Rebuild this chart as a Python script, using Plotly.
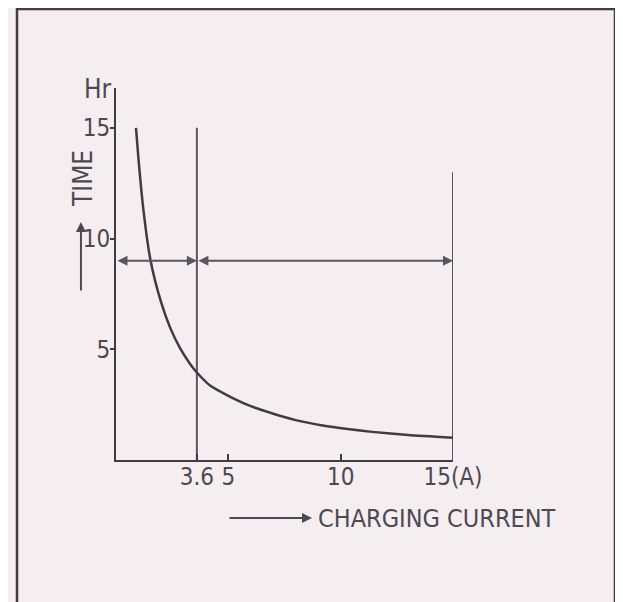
import plotly.graph_objects as go

# ===== data =====
current_a = [0.89, 1.0, 1.22, 1.54, 2.0, 2.4, 2.85, 3.29, 3.6, 4.2, 5.0, 6.0, 7.0, 8.0, 9.2, 10.3, 11.4, 13.0, 15.0]
time_hr = [15.0, 13.6, 11.3, 9.0, 7.15, 6.0, 5.05, 4.35, 3.95, 3.35, 2.9, 2.43, 2.09, 1.8, 1.56, 1.4, 1.27, 1.13, 1.01]

x_tick_vals = [3.6, 5, 10, 15]
x_tick_text = ["3.6", "5", "10", "15(A)"]
y_tick_vals = [5, 10, 15]
y_tick_text = ["5", "10", "15"]

marker_current_a = [3.6, 15]      # vertical guide lines
marker_top_hr = [15.0, 13.0]      # how high each guide goes
charge_time_hr = 9.0              # horizontal dimension arrow

COLORS = {
    'bg': '#f4eef1',
    'line': '#403a46',
    'guide': '#5b5561',
    'text': '#4e4852',
    'border': '#3f3b47',
}
FONT = "Liberation Sans Narrow, DejaVu Sans Condensed, sans-serif"

fig = go.Figure()

# guide lines at 3.6 A and 15 A
for cx, top in zip(marker_current_a, marker_top_hr):
    fig.add_trace(go.Scatter(
        x=[cx, cx], y=[0, top], mode="lines",
        line=dict(color=COLORS['guide'], width=2),
        hoverinfo="skip", showlegend=False
    ))

# charging curve
fig.add_trace(go.Scatter(
    x=current_a, y=time_hr, mode="lines",
    line=dict(color=COLORS['line'], width=2.5, shape="spline", smoothing=0.6),
    showlegend=False
))

# double headed dimension arrows at 9 hr
spans = [(0, marker_current_a[0]), (marker_current_a[0], marker_current_a[1])]
for x0, x1 in spans:
    fig.add_annotation(
        x=x1, y=charge_time_hr, ax=x0, ay=charge_time_hr,
        xref="x", yref="y", axref="x", ayref="y",
        text="", showarrow=True, arrowhead=2, arrowsize=1, arrowwidth=2,
        arrowside="end+start", arrowcolor=COLORS['guide']
    )

# axis captions
fig.add_annotation(
    x=-0.0534, y=0.997, xref="paper", yref="paper",
    xanchor="center", yanchor="middle",
    text="Hr", showarrow=False,
    font=dict(family=FONT, size=26, color=COLORS['text'])
)
fig.add_annotation(
    x=-0.098, y=0.758, xref="paper", yref="paper",
    xanchor="center", yanchor="middle",
    text="TIME", textangle=-90, showarrow=False,
    font=dict(family=FONT, size=26, color=COLORS['text'])
)
fig.add_annotation(
    x=-0.104, y=0.64, xref="paper", yref="paper",
    text="", showarrow=True, ax=0, ay=70,
    arrowhead=2, arrowsize=1, arrowwidth=2, arrowcolor=COLORS['text']
)
fig.add_annotation(
    x=0.9525, y=-0.156, xref="paper", yref="paper",
    xanchor="center", yanchor="middle",
    text="CHARGING CURRENT", showarrow=False,
    font=dict(family=FONT, size=25, color=COLORS['text'])
)
fig.add_annotation(
    x=0.5816, y=-0.156, xref="paper", yref="paper",
    text="", showarrow=True, ax=-84, ay=0,
    arrowhead=2, arrowsize=1, arrowwidth=2, arrowcolor=COLORS['text']
)

# outer frame of the figure
fig.add_shape(
    type="rect", xref="paper", yref="paper",
    x0=(17 - 116) / 337, x1=(615 - 116) / 337,
    y0=-0.5, y1=(460 - 9) / 372,
    line=dict(color=COLORS['border'], width=2.5), fillcolor="rgba(0,0,0,0)"
)

# page body has an 8px margin, so the figure is 8px smaller than the window
fig.update_layout(
    width=615, height=594,
    margin=dict(l=108, r=170, t=80, b=142),
    plot_bgcolor=COLORS['bg'],
    paper_bgcolor=COLORS['bg'],
    font=dict(family=FONT, size=24, color=COLORS['text']),
    showlegend=False,
)
fig.update_xaxes(
    range=[0, 15], showgrid=False, zeroline=False,
    showline=True, linecolor=COLORS['line'], linewidth=2,
    tickvals=x_tick_vals, ticktext=x_tick_text,
    ticks="inside", ticklen=6, tickcolor=COLORS['line'], tickwidth=1.5,
    ticklabelstandoff=-6,
    tickfont=dict(family=FONT, size=24, color=COLORS['text'])
)
fig.update_yaxes(
    range=[0, 16.8], showgrid=False, zeroline=False,
    showline=True, linecolor=COLORS['line'], linewidth=2,
    tickvals=y_tick_vals, ticktext=y_tick_text,
    ticks="outside", ticklen=4, tickcolor=COLORS['line'], tickwidth=1.5,
    ticklabelstandoff=-5,
    tickfont=dict(family=FONT, size=24, color=COLORS['text'])
)

fig.write_html("out.html")
